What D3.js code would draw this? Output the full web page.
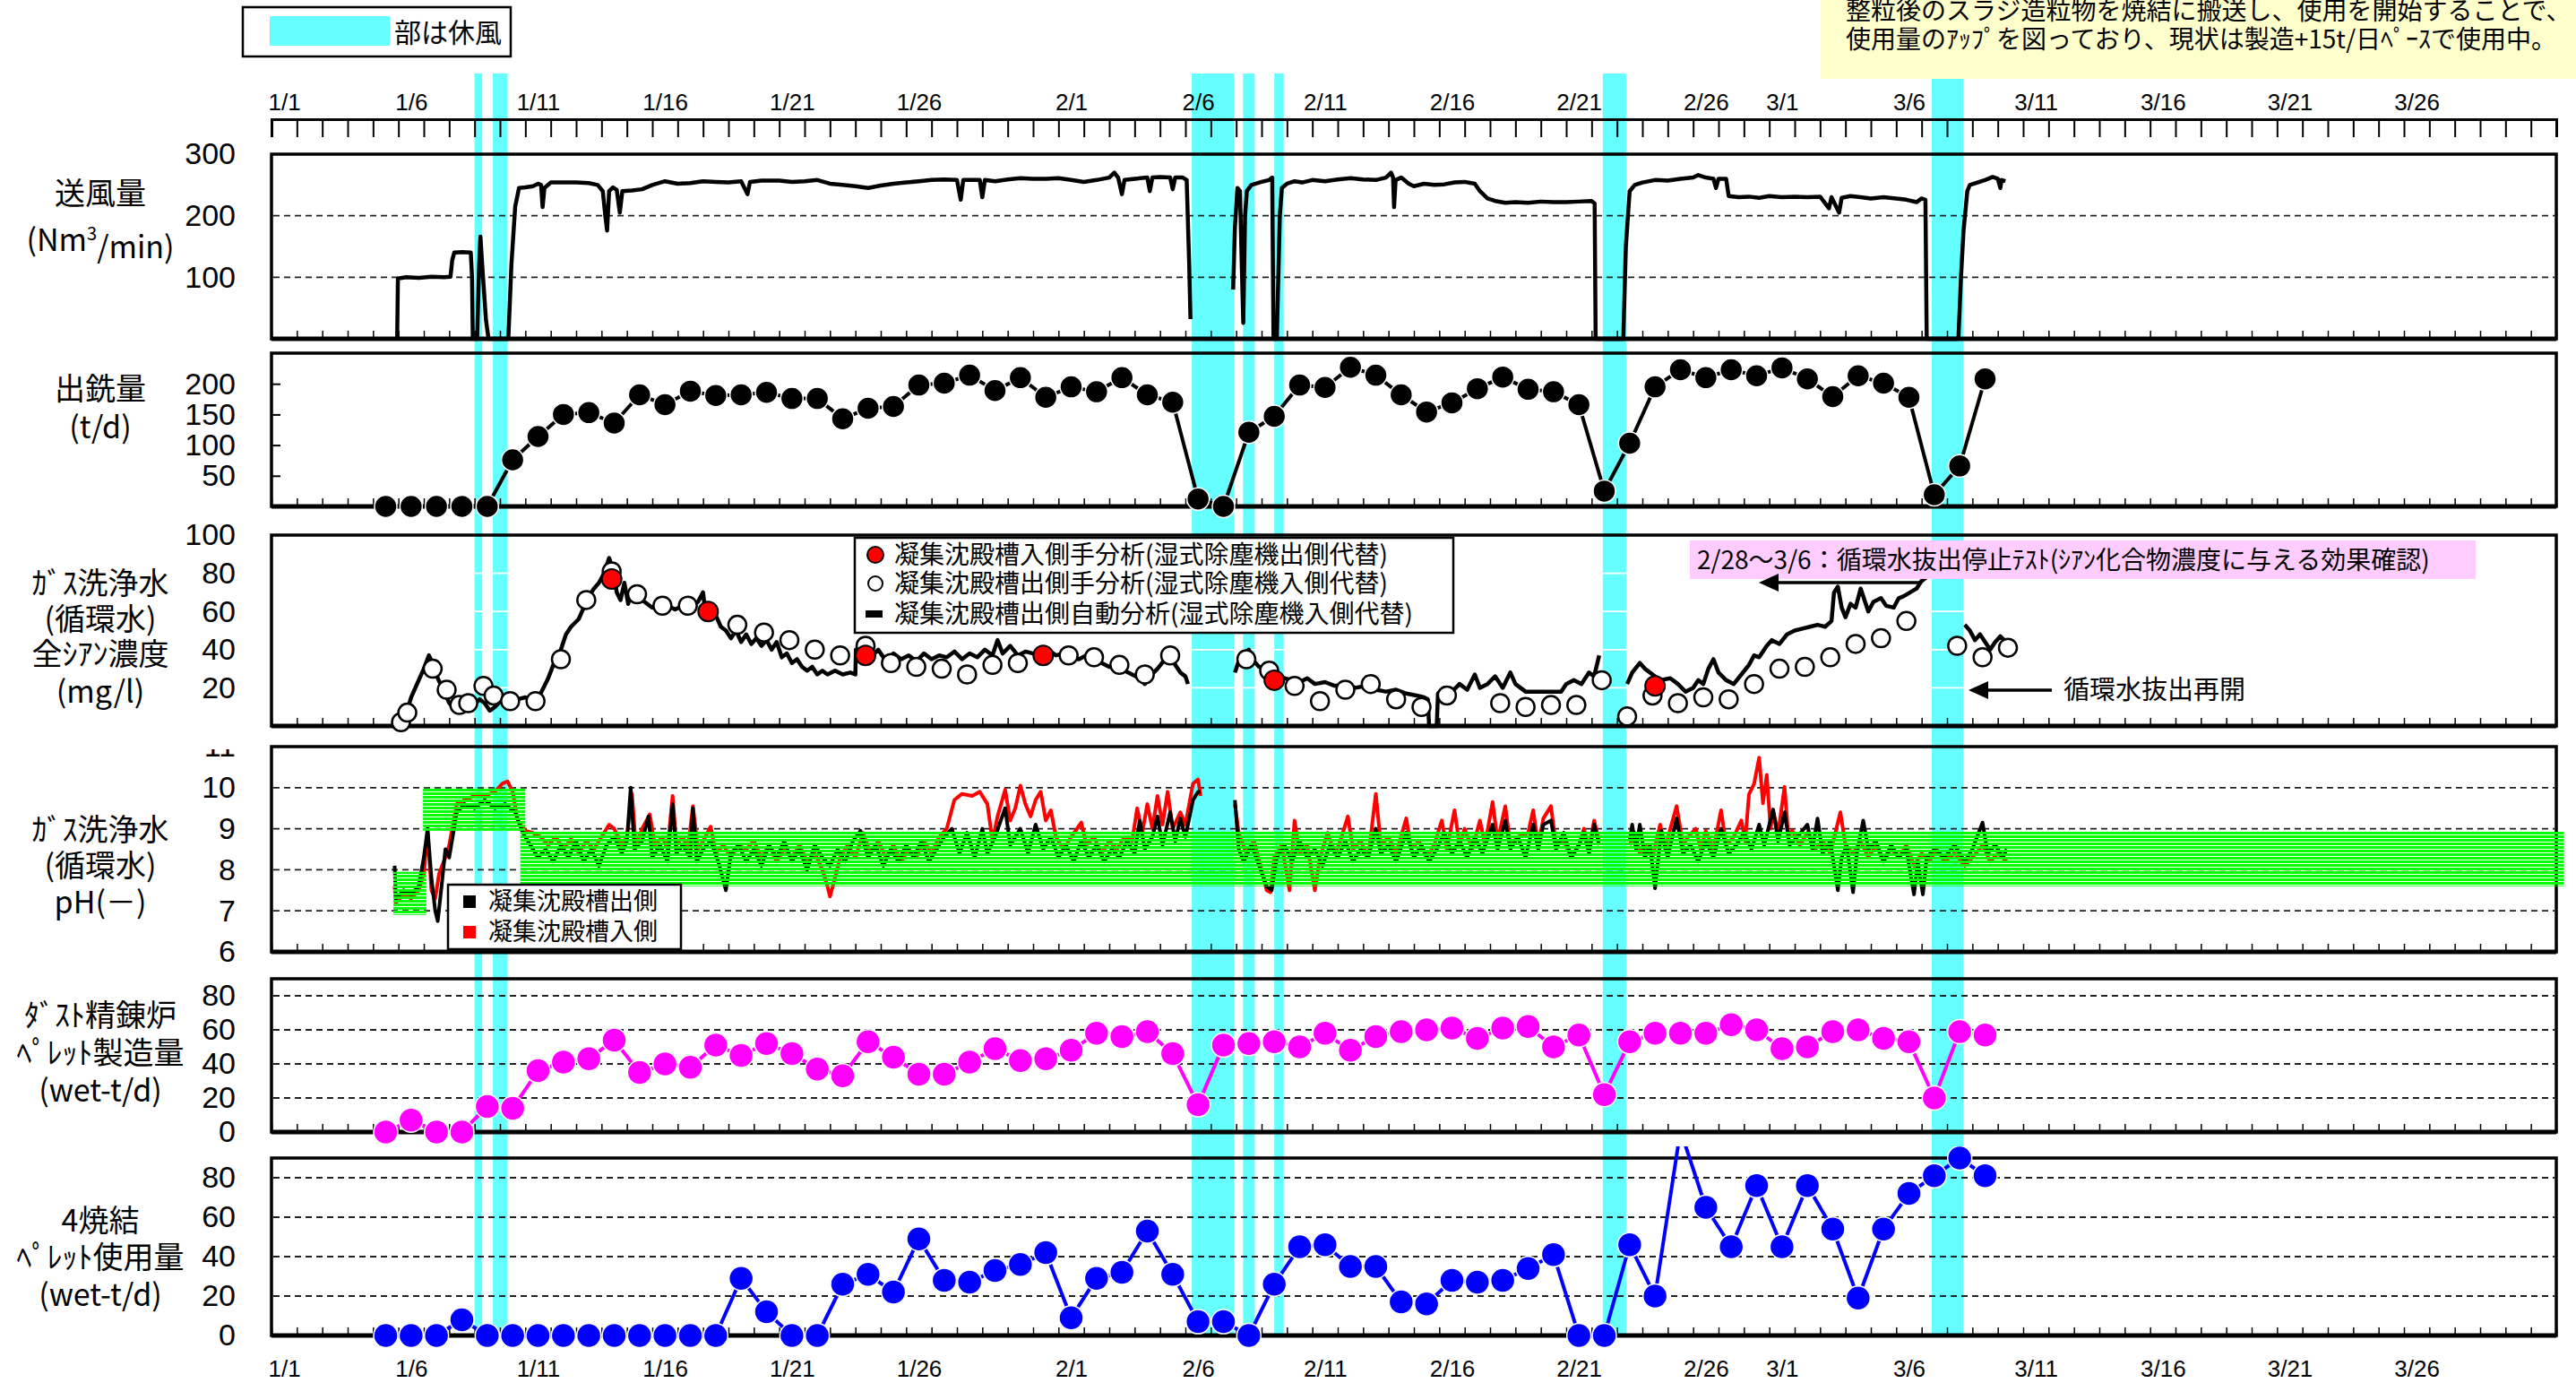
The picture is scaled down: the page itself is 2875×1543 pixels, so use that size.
<!DOCTYPE html>
<html>
<head>
<meta charset="utf-8">
<script src="https://cdn.jsdelivr.net/npm/d3@7"></script>
<style>
  body { margin: 0; background: #fff; }
  svg { display: block; }
  text { font-family: "Noto Sans CJK JP", sans-serif; fill: #000; }
  .num text, text.num { font-family: "Liberation Sans", Arial, sans-serif; }
</style>
</head>
<body>
<svg id="chart" width="2875" height="1543"></svg>
<script>
// ---- data (days counted from 1/1, fractional = time of day) ----
var dateLabels = ["1/1","1/6","1/11","1/16","1/21","1/26","2/1","2/6","2/11","2/16","2/21","2/26","3/1","3/6","3/11","3/16","3/21","3/26"];

// 休風 periods
var outageStart = [8.0, 8.72, 36.25, 38.27, 39.5, 52.44, 65.4];
var outageEnd   = [8.3, 9.3, 37.92, 38.73, 39.87, 53.36, 66.64];

// 送風量 (Nm3/min)
var blowData = [[4.95,0],[4.98,98],[5.3,100],[5.8,99],[6.3,101],[6.8,100],[7.05,101],[7.12,128],[7.2,140],[7.5,141],[7.85,140],[7.9,100],[7.93,0],[8.1,0],[8.18,120],[8.23,166],[8.3,120],[8.45,30],[8.55,0],[9.0,0],[9.33,0],[9.45,120],[9.6,215],[9.75,245],[10.0,246],[10.3,248],[10.5,252],[10.62,250],[10.68,214],[10.75,245],[11.0,254],[11.5,254],[12.0,254],[12.5,253],[12.85,250],[13.05,240],[13.15,200],[13.22,176],[13.3,240],[13.45,246],[13.6,242],[13.72,205],[13.82,240],[14.2,241],[14.6,243],[15.0,250],[15.5,256],[16.0,252],[16.5,253],[17.0,256],[17.5,255],[18.0,254],[18.5,256],[18.75,235],[18.85,255],[19.3,257],[20.0,257],[20.5,255],[21.0,256],[21.5,258],[22.0,252],[22.5,250],[23.0,248],[23.5,245],[24.0,249],[24.5,252],[25.0,254],[25.5,256],[26.0,258],[26.5,259],[27.0,258],[27.15,226],[27.25,258],[27.9,258],[28.0,230],[28.1,258],[28.5,256],[29.0,259],[29.5,261],[30.0,260],[30.5,260],[31.0,261],[31.5,258],[32.0,255],[32.5,258],[33.0,262],[33.2,270],[33.35,262],[33.5,235],[33.6,258],[34.0,260],[34.5,262],[34.6,240],[34.7,262],[35.0,263],[35.4,262],[35.5,243],[35.6,262],[35.9,262],[36.05,258],[36.15,120],[36.2,32],[36.25,null],
  [37.88,80],[37.95,180],[38.05,245],[38.15,240],[38.22,120],[38.28,26],[38.35,200],[38.42,240],[38.6,250],[39.0,255],[39.3,258],[39.42,262],[39.47,0],[39.6,0],[39.72,200],[39.8,245],[40.0,252],[40.3,256],[40.6,254],[41.0,258],[41.5,256],[42.0,259],[42.5,261],[43.0,259],[43.5,258],[43.9,262],[44.1,270],[44.18,262],[44.22,214],[44.28,258],[44.5,262],[44.8,252],[45.0,248],[45.4,252],[45.8,250],[46.2,251],[46.6,254],[47.0,255],[47.4,252],[47.6,240],[47.9,228],[48.2,224],[48.6,221],[49.0,222],[49.5,221],[50.0,223],[50.5,222],[51.0,222],[51.5,223],[52.0,224],[52.12,220],[52.16,0],[52.5,0],[53.25,0],[53.35,150],[53.5,240],[53.7,250],[54.0,254],[54.5,258],[55.0,257],[55.5,260],[56.0,262],[56.2,266],[56.5,262],[56.8,260],[56.9,245],[57.0,260],[57.3,260],[57.4,232],[57.8,230],[58.2,231],[58.6,229],[59.0,232],[59.5,230],[60.0,231],[60.5,230],[61.0,231],[61.35,212],[61.45,230],[61.75,205],[61.85,229],[62.2,232],[62.6,230],[63.0,228],[63.5,230],[64.0,228],[64.4,226],[64.8,222],[65.0,228],[65.15,226],[65.2,0],[66.0,0],[66.45,0],[66.55,100],[66.65,175],[66.8,240],[66.9,250],[67.2,254],[67.5,258],[67.8,263],[68.0,260],[68.1,245],[68.15,258],[68.3,256]];

// daily series, first value is 1/5
var dailyStart = 4;
var ironOut = [0,0,0,0,0,76,114,150,153,136,182,166,188,181,182,186,176,176,143,160,163,198,201,214,189,210,178,195,187,210,182,170,12,0,121,147,198,194,227,214,182,154,169,192,211,191,187,166,25,103,195,223,210,223,213,226,208,179,213,201,178,19,66,208];
var pelletMade = [0,7,0,0,15,14,36,41,43,54,35,40,38,51,45,52,46,37,33,53,44,34,34,41,49,42,43,48,58,56,59,46,16,51,52,53,50,58,48,56,59,60,61,55,61,62,50,57,22,53,58,58,58,63,60,49,50,59,60,55,53,20,59,57];
var pelletUsed = [0,0,0,8,0,0,0,0,0,0,0,0,0,0,29,12,0,0,26,31,22,49,28,27,33,36,42,9,29,32,53,31,7,7,0,26,45,46,35,35,17,16,28,27,28,34,41,0,0,46,20,104,65,45,76,45,76,54,19,54,72,81,90,81];

// 全シアン濃度 (mg/l)
var cnAuto = [[4.95,0],[5.1,2],[5.3,6],[5.5,15],[5.8,24],[6.0,30],[6.2,37],[6.35,33],[6.55,25],[6.8,18],[7.0,12],[7.3,8],[7.6,12],[7.9,10],[8.2,14],[8.4,12],[8.6,8],[8.8,10],[9.1,14],[9.4,12],[9.7,14],[10.0,15],[10.3,13],[10.6,17],[10.9,25],[11.1,32],[11.4,40],[11.6,48],[11.8,52],[12.1,56],[12.3,62],[12.5,68],[12.7,72],[12.9,75],[13.1,80],[13.3,88],[13.45,82],[13.6,70],[13.75,66],[13.9,75],[14.05,64],[14.2,72],[14.4,68],[14.6,66],[14.8,64],[15.0,62],[15.3,64],[15.6,63],[15.9,61],[16.2,63],[16.5,62],[16.8,65],[17.0,70],[17.1,58],[17.3,62],[17.5,58],[17.7,52],[17.9,50],[18.1,46],[18.3,50],[18.5,44],[18.7,48],[18.9,43],[19.1,46],[19.3,42],[19.5,45],[19.7,40],[19.9,44],[20.1,36],[20.3,38],[20.5,33],[20.7,35],[20.9,31],[21.1,29],[21.3,31],[21.5,27],[21.7,29],[21.9,27],[22.2,29],[22.5,27],[22.8,28],[23.0,27],[23.02,40],[23.3,38],[23.6,36],[23.9,40],[24.2,34],[24.5,38],[24.8,35],[25.1,37],[25.4,34],[25.7,38],[26.0,35],[26.3,37],[26.6,36],[26.9,39],[27.2,35],[27.5,38],[27.8,36],[28.1,40],[28.4,37],[28.6,45],[28.8,38],[29.1,42],[29.4,37],[29.7,39],[30.0,38],[30.3,36],[30.6,40],[30.9,37],[31.2,38],[31.5,36],[31.8,35],[32.1,37],[32.4,34],[32.7,33],[33.0,31],[33.3,32],[33.6,29],[33.9,27],[34.2,25],[34.4,22],[34.6,26],[34.9,30],[35.2,35],[35.4,37],[35.6,32],[35.8,28],[36.0,26],[36.1,22],[36.2,null],
  [37.95,28],[38.1,34],[38.3,38],[38.5,40],[38.7,34],[38.9,31],[39.1,30],[39.3,28],[39.6,27],[39.9,25],[40.2,24],[40.5,23],[40.8,25],[41.1,22],[41.5,23],[41.9,21],[42.3,22],[42.7,20],[43.1,21],[43.5,19],[43.9,18],[44.3,19],[44.7,17],[45.1,16],[45.4,15],[45.55,14],[45.6,0],[45.9,0],[45.95,17],[46.2,20],[46.5,18],[46.8,22],[47.1,19],[47.4,27],[47.6,20],[47.9,22],[48.2,26],[48.5,20],[48.8,28],[49.0,22],[49.2,20],[49.4,18],[50.0,18],[50.8,18],[51.0,22],[51.3,24],[51.6,22],[51.9,28],[52.1,26],[52.3,37],[52.4,null],
  [53.4,22],[53.6,28],[53.9,33],[54.1,30],[54.4,27],[54.7,24],[55.1,25],[55.4,22],[55.7,18],[56.0,20],[56.2,24],[56.4,22],[56.6,30],[56.8,35],[57.0,28],[57.3,24],[57.6,22],[57.9,27],[58.2,32],[58.4,37],[58.6,36],[58.9,42],[59.1,45],[59.4,43],[59.7,48],[60.0,50],[60.3,51],[60.6,52],[60.9,53],[61.2,52],[61.45,55],[61.55,70],[61.7,73],[61.85,62],[62.0,57],[62.2,64],[62.4,62],[62.6,72],[62.75,66],[62.9,60],[63.1,65],[63.4,67],[63.6,63],[63.9,62],[64.1,67],[64.3,68],[64.55,70],[64.8,72],[65.0,76],[65.2,78],[65.3,null],
  [66.7,53],[66.9,50],[67.1,45],[67.3,48],[67.5,44],[67.7,40],[67.9,44],[68.1,47],[68.25,45]];
var cnOut = [[5.1,2],[5.35,7],[6.35,30],[6.9,19],[7.4,11],[7.75,12],[8.35,21],[8.75,16],[9.4,13],[10.4,13],[11.4,35],[12.4,66],[13.4,81],[14.4,69],[15.4,63],[16.4,63],[18.35,53],[19.4,49],[20.4,45],[21.4,40],[22.4,37],[23.4,42],[24.4,33],[25.4,31],[26.4,30],[27.4,27],[28.4,32],[29.4,33],[30.4,37],[31.4,37],[32.4,36],[33.4,32],[34.4,27],[35.4,37],[38.4,35],[39.3,29],[40.3,21],[41.3,13],[42.3,19],[43.3,22],[44.3,14],[45.3,10],[46.3,16],[48.4,12],[49.4,10],[50.4,11],[51.4,11],[52.4,24],[53.4,5],[54.4,16],[55.4,12],[56.4,15],[57.4,14],[58.4,22],[59.4,30],[60.4,31],[61.4,36],[62.4,43],[63.4,46],[64.4,55],[66.4,42],[67.4,36],[68.4,41]];
var cnIn = [[13.4,77],[17.2,60],[23.4,37],[30.4,37],[39.5,24],[54.5,21]];

// pH
var phOut = [[4.85,8.1],[4.9,7.3],[5.2,7.5],[5.5,7.4],[5.8,7.6],[6.0,8.3],[6.15,9.0],[6.3,7.8],[6.45,7.0],[6.55,6.75],[6.7,7.6],[6.85,8.5],[7.0,8.3],[7.3,9.4],[7.6,9.6],[8.0,9.5],[8.4,9.7],[8.8,9.5],[9.2,9.6],[9.6,9.4],[9.9,8.9],[10.2,8.6],[10.5,8.3],[10.8,8.5],[11.1,8.2],[11.4,8.6],[11.7,8.3],[12.0,8.7],[12.3,8.2],[12.6,8.5],[12.9,8.1],[13.2,8.6],[13.5,8.8],[13.8,8.4],[14.0,8.7],[14.15,10.0],[14.3,8.5],[14.6,8.7],[14.85,9.3],[15.0,8.3],[15.3,8.6],[15.6,8.2],[15.8,9.6],[15.95,8.4],[16.2,8.6],[16.5,8.3],[16.6,9.5],[16.75,8.2],[17.0,8.5],[17.3,8.7],[17.6,8.2],[17.9,7.5],[18.1,8.4],[18.4,8.6],[18.7,8.2],[19.0,8.5],[19.3,8.1],[19.6,8.6],[19.9,8.3],[20.2,8.7],[20.5,8.2],[20.8,8.5],[21.1,8.0],[21.4,8.6],[21.7,8.3],[22.0,8.1],[22.3,8.5],[22.6,8.2],[22.9,8.7],[23.2,8.95],[23.5,8.3],[23.8,8.6],[24.1,8.1],[24.4,8.5],[24.7,8.2],[25.0,8.6],[25.3,8.3],[25.6,8.7],[25.9,8.2],[26.2,8.5],[26.5,8.8],[26.8,9.0],[27.1,8.4],[27.4,8.9],[27.7,8.3],[28.0,9.0],[28.2,8.4],[28.5,8.8],[28.9,9.5],[29.1,8.6],[29.5,9.0],[29.8,8.4],[30.1,9.1],[30.4,8.5],[30.7,8.8],[31.0,8.3],[31.3,8.6],[31.6,8.2],[31.9,8.7],[32.2,8.3],[32.5,8.6],[32.8,8.2],[33.1,8.5],[33.4,8.3],[33.7,8.7],[34.0,8.4],[34.2,9.2],[34.4,8.5],[34.7,8.8],[34.9,9.3],[35.1,8.6],[35.4,9.4],[35.6,8.7],[35.8,9.25],[36.0,8.8],[36.3,9.7],[36.5,9.9],[36.6,9.9],[36.7,null],
  [37.95,9.7],[38.1,8.5],[38.3,8.2],[38.6,8.6],[38.9,8.1],[39.2,7.6],[39.4,7.5],[39.6,8.3],[39.9,8.6],[40.2,8.2],[40.5,8.7],[40.8,8.3],[41.1,8.5],[41.4,8.1],[41.7,8.6],[42.0,8.3],[42.3,8.7],[42.6,8.2],[42.9,8.5],[43.2,8.3],[43.5,9.0],[43.7,8.4],[44.0,8.6],[44.3,8.2],[44.7,8.9],[45.0,8.3],[45.3,8.6],[45.6,8.2],[45.9,8.5],[46.2,8.9],[46.5,8.4],[46.8,8.7],[47.1,8.3],[47.4,8.8],[47.7,8.4],[48.1,9.1],[48.3,8.5],[48.6,9.2],[48.8,8.5],[49.1,8.8],[49.4,8.3],[49.7,9.1],[49.9,8.5],[50.1,9.1],[50.4,9.2],[50.6,8.5],[50.9,8.9],[51.2,8.3],[51.5,8.6],[51.7,8.9],[51.9,8.4],[52.1,9.1],[52.3,8.6],[52.4,null],
  [53.5,8.7],[53.6,9.1],[53.75,8.5],[53.9,9.1],[54.1,8.3],[54.3,8.6],[54.5,7.55],[54.65,8.4],[54.75,8.95],[55.0,8.3],[55.35,9.25],[55.6,8.4],[55.9,8.6],[56.2,8.2],[56.5,8.7],[56.8,8.3],[57.1,9.0],[57.4,8.4],[57.7,8.6],[58.0,8.9],[58.3,8.5],[58.6,9.1],[58.8,8.6],[59.15,9.47],[59.35,8.7],[59.6,9.4],[59.8,8.6],[60.1,8.8],[60.5,9.1],[60.7,8.5],[60.9,9.25],[61.1,8.4],[61.4,8.7],[61.7,7.5],[61.85,8.3],[62.05,8.6],[62.3,7.45],[62.45,8.4],[62.7,9.2],[62.9,8.5],[63.2,8.7],[63.5,8.2],[63.8,8.6],[64.1,8.3],[64.4,8.5],[64.7,7.4],[64.85,8.2],[65.05,7.4],[65.2,8.3],[65.5,8.5],[65.9,8.3],[66.3,8.6],[66.7,8.2],[67.0,8.5],[67.4,9.15],[67.6,8.4],[67.9,8.6],[68.2,8.3],[68.35,8.5]];
var phIn = [[4.85,7.6],[4.9,7.2],[5.2,7.4],[5.5,7.3],[5.8,7.5],[6.0,7.9],[6.15,8.9],[6.3,7.5],[6.45,7.3],[6.6,7.9],[6.85,8.3],[7.0,8.6],[7.3,9.6],[7.6,9.7],[8.0,9.8],[8.4,9.8],[8.8,9.9],[9.1,10.1],[9.3,10.15],[9.5,9.9],[9.7,9.2],[10.0,8.95],[10.3,8.9],[10.6,8.8],[10.9,8.6],[11.2,8.8],[11.5,8.5],[11.8,8.75],[12.1,8.4],[12.4,8.7],[12.7,8.5],[13.0,8.8],[13.3,9.1],[13.5,9.0],[13.8,8.6],[14.0,8.8],[14.2,9.85],[14.35,8.6],[14.6,9.0],[14.9,9.35],[15.1,8.6],[15.4,8.8],[15.6,8.5],[15.8,9.8],[15.95,8.6],[16.2,8.8],[16.4,8.5],[16.6,9.55],[16.8,8.5],[17.0,8.7],[17.3,9.05],[17.5,8.4],[17.8,8.6],[18.1,8.3],[18.4,8.6],[18.7,8.5],[19.0,8.7],[19.3,8.3],[19.6,8.6],[19.9,8.2],[20.2,8.5],[20.5,8.3],[20.8,8.6],[21.1,8.2],[21.4,8.4],[21.7,8.0],[21.9,7.6],[22.0,7.35],[22.15,7.7],[22.4,8.3],[22.7,8.6],[23.0,8.3],[23.3,8.9],[23.6,8.4],[23.9,8.7],[24.2,8.3],[24.5,8.6],[24.8,8.2],[25.1,8.5],[25.4,8.3],[25.7,8.7],[26.0,8.4],[26.3,8.8],[26.6,9.0],[26.9,9.7],[27.2,9.85],[27.6,9.8],[27.9,9.9],[28.2,9.6],[28.4,8.7],[28.6,9.3],[28.9,9.95],[29.1,9.2],[29.3,9.5],[29.5,10.05],[29.7,9.6],[29.9,9.3],[30.1,9.7],[30.3,9.9],[30.5,9.2],[30.7,9.45],[30.9,8.8],[31.2,8.5],[31.5,8.8],[31.9,9.15],[32.1,8.6],[32.4,8.8],[32.7,8.4],[33.0,8.7],[33.3,8.5],[33.6,8.8],[33.9,8.7],[34.1,9.5],[34.3,8.9],[34.5,9.6],[34.7,9.0],[34.9,9.8],[35.1,9.1],[35.3,9.9],[35.5,9.0],[35.8,9.4],[36.0,9.1],[36.3,10.1],[36.5,10.2],[36.6,9.8],[36.7,null],
  [37.95,9.6],[38.1,8.9],[38.4,8.4],[38.7,8.7],[39.0,8.0],[39.2,7.5],[39.35,7.45],[39.5,8.3],[39.8,8.6],[40.1,7.5],[40.3,9.2],[40.5,8.4],[40.8,8.6],[41.1,7.5],[41.3,8.3],[41.6,8.9],[41.9,8.4],[42.1,8.7],[42.4,9.3],[42.6,8.5],[42.9,8.7],[43.2,8.3],[43.5,9.85],[43.7,8.6],[44.0,8.8],[44.3,8.4],[44.7,9.25],[44.9,8.5],[45.2,8.7],[45.5,8.3],[45.8,8.6],[46.1,9.2],[46.3,8.5],[46.6,9.45],[46.8,8.6],[47.0,9.0],[47.3,8.5],[47.6,9.2],[47.8,8.6],[48.1,9.65],[48.3,8.7],[48.6,9.55],[48.8,8.6],[49.1,8.8],[49.5,8.9],[49.7,9.45],[49.9,8.6],[50.1,9.25],[50.4,9.55],[50.6,8.6],[50.9,8.7],[51.2,8.3],[51.5,8.6],[51.7,9.0],[51.9,8.5],[52.1,9.2],[52.3,8.7],[52.4,null],
  [53.5,8.6],[53.7,8.9],[53.9,8.4],[54.1,8.6],[54.4,8.3],[54.7,9.1],[54.9,8.5],[55.1,9.0],[55.35,9.55],[55.6,8.6],[55.8,8.8],[56.1,9.0],[56.3,8.5],[56.5,8.95],[56.8,8.5],[57.1,9.45],[57.3,8.6],[57.6,8.8],[57.9,9.2],[58.05,8.7],[58.2,9.84],[58.4,10.09],[58.6,10.73],[58.75,9.62],[58.9,10.31],[59.05,9.0],[59.15,9.44],[59.35,8.9],[59.6,10.02],[59.75,8.8],[59.9,8.96],[60.2,8.6],[60.5,8.9],[60.8,8.5],[61.1,8.7],[61.4,8.4],[61.6,8.9],[61.8,9.4],[62.0,8.6],[62.3,8.4],[62.6,8.7],[62.9,8.3],[63.2,8.6],[63.5,8.2],[63.8,8.5],[64.1,8.3],[64.4,8.6],[64.7,8.1],[65.0,8.4],[65.3,8.2],[65.6,8.5],[65.9,8.2],[66.3,8.4],[66.7,8.1],[67.0,8.3],[67.4,8.6],[67.7,8.2],[68.0,8.4],[68.35,8.2]];

// pH control ranges (green hatched)
var rangeStart = [4.8, 5.97, 9.8];
var rangeEnd   = [6.1, 10.0, 90.3];
var rangeLow   = [6.9, 8.95, 7.6];
var rangeHigh  = [7.95, 10.0, 8.93];

// ---- scales ----
var DAY = 864e5, T0 = Date.UTC(2009, 0, 1);
var toDate = function (d) { return new Date(T0 + d * DAY); };
var x = d3.scaleUtc().domain([toDate(0), toDate(90)]).range([303, 2853]);
var X = function (d) { return x(toDate(d)); };
var XL = X(0), XR = X(90);

var svg = d3.select("#chart");

var defs = svg.append("defs");
defs.append("pattern").attr("id", "stripes").attr("patternUnits", "userSpaceOnUse")
  .attr("width", 20).attr("height", 4)
  .append("rect").attr("width", 20).attr("height", 3).attr("fill", "#00ff00");
defs.append("clipPath").attr("id", "clipUsed").append("rect")
  .attr("x", 250).attr("y", 1279).attr("width", 2650).attr("height", 260);
defs.append("clipPath").attr("id", "clipPhLab").append("rect")
  .attr("x", -300).attr("y", 836).attr("width", 300).attr("height", 260);

// outage bands
svg.append("g").selectAll("rect")
  .data(d3.zip(outageStart, outageEnd))
  .join("rect")
  .attr("x", function (d) { return X(d[0]); })
  .attr("width", function (d) { return X(d[1]) - X(d[0]); })
  .attr("y", 82).attr("height", 1410)
  .attr("fill", "#66ffff");

// ---- top date axis ----
var labelDates = dateLabels.map(function (s) {
  var p = s.split("/");
  return new Date(Date.UTC(2009, +p[0] - 1, +p[1], 12));
});
svg.append("g").attr("transform", "translate(0,133)")
  .call(d3.axisBottom(x).ticks(d3.utcDay.every(1)).tickSize(20).tickSizeOuter(20).tickFormat(""))
  .call(function (g) { g.selectAll("line,path").attr("stroke", "#000"); })
  .call(function (g) { g.select(".domain").attr("stroke-width", 3); g.selectAll("line").attr("stroke-width", 2); });

function dateLabelAxis(y, top) {
  var ax = (top ? d3.axisTop(x) : d3.axisBottom(x))
    .tickValues(labelDates).tickSize(0).tickPadding(top ? 10 : 13)
    .tickFormat(function (d, i) { return dateLabels[i]; });
  svg.append("g").attr("class", "num").attr("transform", "translate(0," + y + ")")
    .call(ax)
    .call(function (g) { g.select(".domain").remove(); })
    .selectAll("text").style("font-size", "26px");
}
dateLabelAxis(133, true);
dateLabelAxis(1505, false);

// ---- panel helper ----
function panel(top, bottom, domain, grid, gridColor, labels, tickIn) {
  var y = d3.scaleLinear().domain(domain).range([bottom, top]);
  var g = svg.append("g");
  g.selectAll("line.grid").data(grid).join("line").attr("class", "grid")
    .attr("x1", XL + 2).attr("x2", XR - 2)
    .attr("y1", y).attr("y2", y)
    .attr("stroke", gridColor).attr("stroke-width", 1.8)
    .attr("stroke-dasharray", gridColor === "#fff" ? null : "7,5");
  g.append("rect").attr("x", XL).attr("y", top)
    .attr("width", XR - XL).attr("height", bottom - top)
    .attr("fill", "none").attr("stroke", "#000").attr("stroke-width", 3.5);
  g.append("line").attr("x1", XL).attr("x2", XR).attr("y1", bottom).attr("y2", bottom)
    .attr("stroke", "#000").attr("stroke-width", 5);
  g.append("g").attr("transform", "translate(0," + bottom + ")")
    .call(d3.axisTop(x).ticks(d3.utcDay.every(1)).tickSize(9).tickFormat(""))
    .call(function (a) { a.select(".domain").remove(); a.selectAll("line").attr("stroke-width", 1.5); });
  var lab = g.append("g").attr("class", "num").attr("transform", "translate(" + XL + ",0)")
    .call(d3.axisLeft(y).tickValues(labels).tickFormat(d3.format("d"))
      .tickSizeInner(tickIn).tickSizeOuter(0).tickPadding(40))
    .call(function (a) { a.select(".domain").remove(); a.selectAll("line").attr("stroke-width", 2); });
  lab.selectAll("text").style("font-size", "34px");
  return { y: y, g: g, lab: lab };
}

function line(g, data, y, color, w) {
  return g.append("path").datum(data)
    .attr("d", d3.line().defined(function (d) { return d[1] != null; })
      .x(function (d) { return X(d[0]); }).y(function (d) { return y(d[1]); }))
    .attr("fill", "none").attr("stroke", color).attr("stroke-width", w)
    .attr("stroke-linejoin", "round");
}

function dailySeries(g, values, y, color, r) {
  var pts = values.map(function (v, i) { return [dailyStart + i + 0.5, v]; });
  line(g, pts, y, color, 4);
  g.selectAll("circle.m").data(pts).join("circle").attr("class", "m")
    .attr("cx", function (d) { return X(d[0]); }).attr("cy", function (d) { return y(d[1]); })
    .attr("r", r).attr("fill", color).attr("stroke", "#fff").attr("stroke-width", 1.5);
}

// titles
function title(lines, ys) {
  lines.forEach(function (t, i) {
    svg.append("text").attr("x", 112).attr("y", ys[i]).attr("dy", "0.35em")
      .attr("text-anchor", "middle").style("font-size", "34px").text(t);
  });
}

// 1 送風量
var p1 = panel(172, 378, [0, 300], [100, 200], "#222", [100, 200, 300], 0);
line(p1.g, blowData, p1.y, "#000", 4.5);
title(["送風量"], [216]);
var t1 = svg.append("text").attr("x", 112).attr("y", 268).attr("dy", "0.35em")
  .attr("text-anchor", "middle").style("font-size", "34px");
t1.append("tspan").text("(Nm");
t1.append("tspan").attr("dy", "-0.6em").style("font-size", "20px").text("3");
t1.append("tspan").attr("dy", "0.6em").text("/min)");

// 2 出銑量
var p2 = panel(394, 565, [0, 250], [], "#222", [50, 100, 150, 200], -10);
dailySeries(p2.g, ironOut, p2.y, "#000", 12.5);
title(["出銑量", "(t/d)"], [434, 477]);

// 3 全シアン濃度
var p3 = panel(597, 810, [0, 100], [20, 40, 60, 80], "#fff", [20, 40, 60, 80, 100], 0);
line(p3.g, cnAuto, p3.y, "#000", 4.5);
p3.g.selectAll("circle.o").data(cnOut).join("circle").attr("class", "o")
  .attr("cx", function (d) { return X(d[0]); }).attr("cy", function (d) { return p3.y(d[1]); })
  .attr("r", 10).attr("fill", "#fff").attr("stroke", "#000").attr("stroke-width", 2.5);
p3.g.selectAll("circle.i").data(cnIn).join("circle").attr("class", "i")
  .attr("cx", function (d) { return X(d[0]); }).attr("cy", function (d) { return p3.y(d[1]); })
  .attr("r", 11).attr("fill", "#ff0000").attr("stroke", "#000").attr("stroke-width", 2);
title(["ｶﾞｽ洗浄水", "(循環水)", "全ｼｱﾝ濃度", "(mg/l)"], [651, 691, 730, 772]);

// 4 pH
var p4 = panel(833, 1062, [6, 11], [7, 8, 9, 10], "#222", [6, 7, 8, 9, 10, 11], 0);
p4.lab.attr("clip-path", "url(#clipPhLab)");
line(p4.g, phIn, p4.y, "#ff0000", 4);
line(p4.g, phOut, p4.y, "#000", 4);
p4.g.selectAll("rect.rng").data(d3.range(rangeStart.length)).join("rect").attr("class", "rng")
  .attr("x", function (i) { return X(rangeStart[i]); })
  .attr("width", function (i) { return X(rangeEnd[i]) - X(rangeStart[i]); })
  .attr("y", function (i) { return p4.y(rangeHigh[i]); })
  .attr("height", function (i) { return p4.y(rangeLow[i]) - p4.y(rangeHigh[i]); })
  .attr("fill", "url(#stripes)");
title(["ｶﾞｽ洗浄水", "(循環水)", "pH(－)"], [926, 966, 1007]);

// 5 ペレット製造量
var p5 = panel(1092, 1263, [0, 90], [20, 40, 60, 80], "#222", [0, 20, 40, 60, 80], 0);
dailySeries(p5.g, pelletMade, p5.y, "#ff00ff", 13.5);
title(["ﾀﾞｽﾄ精錬炉", "ﾍﾟﾚｯﾄ製造量", "(wet-t/d)"], [1133, 1175, 1217]);

// 6 ペレット使用量
var p6 = panel(1292, 1490, [0, 90], [20, 40, 60, 80], "#222", [0, 20, 40, 60, 80], 0);
var g6 = p6.g.append("g").attr("clip-path", "url(#clipUsed)");
dailySeries(g6, pelletUsed, p6.y, "#0000ff", 13.5);
title(["4焼結", "ﾍﾟﾚｯﾄ使用量", "(wet-t/d)"], [1362, 1403, 1445]);

// ---- legends and notes ----
// cyanide legend
var lg = svg.append("g");
lg.append("rect").attr("x", 954).attr("y", 600).attr("width", 668).attr("height", 106)
  .attr("fill", "#fff").attr("stroke", "#000").attr("stroke-width", 2.5);
lg.append("circle").attr("cx", 977).attr("cy", 619).attr("r", 9).attr("fill", "#ff0000").attr("stroke", "#000").attr("stroke-width", 2);
lg.append("circle").attr("cx", 977).attr("cy", 651).attr("r", 8).attr("fill", "#fff").attr("stroke", "#000").attr("stroke-width", 2);
lg.append("rect").attr("x", 966).attr("y", 681).attr("width", 19).attr("height", 8).attr("fill", "#000");
["凝集沈殿槽入側手分析(湿式除塵機出側代替)", "凝集沈殿槽出側手分析(湿式除塵機入側代替)", "凝集沈殿槽出側自動分析(湿式除塵機入側代替)"]
  .forEach(function (t, i) {
    lg.append("text").attr("x", 998).attr("y", [619, 651, 685][i]).attr("dy", "0.35em")
      .style("font-size", "28px").text(t);
  });

// pH legend
var lp = svg.append("g");
lp.append("rect").attr("x", 500).attr("y", 987).attr("width", 260).attr("height", 72)
  .attr("fill", "#fff").attr("stroke", "#000").attr("stroke-width", 2.5);
lp.append("rect").attr("x", 517).attr("y", 999).attr("width", 14).attr("height", 14).attr("fill", "#000");
lp.append("rect").attr("x", 517).attr("y", 1033).attr("width", 14).attr("height", 14).attr("fill", "#ff0000");
lp.append("text").attr("x", 545).attr("y", 1006).attr("dy", "0.35em").style("font-size", "27px").text("凝集沈殿槽出側");
lp.append("text").attr("x", 545).attr("y", 1040).attr("dy", "0.35em").style("font-size", "27px").text("凝集沈殿槽入側");

// test period note
svg.append("rect").attr("x", 1886).attr("y", 603).attr("width", 877).attr("height", 43).attr("fill", "#ffccff");
svg.append("text").attr("x", 1894).attr("y", 625).attr("dy", "0.35em").style("font-size", "28px")
  .text("2/28～3/6：循環水抜出停止ﾃｽﾄ(ｼｱﾝ化合物濃度に与える効果確認)");
function arrow(x1, x2, y) {
  svg.append("line").attr("x1", x1 + 15).attr("x2", x2).attr("y1", y).attr("y2", y)
    .attr("stroke", "#000").attr("stroke-width", 3.5);
  svg.append("path").attr("d", "M" + x1 + "," + y + "L" + (x1 + 22) + "," + (y - 10) + "L" + (x1 + 22) + "," + (y + 10) + "Z")
    .attr("fill", "#000");
}
arrow(1963, 2143, 650);
arrow(2197, 2290, 770);
svg.append("text").attr("x", 2303).attr("y", 770).attr("dy", "0.35em").style("font-size", "29px").text("循環水抜出再開");

// outage legend
svg.append("rect").attr("x", 271).attr("y", 8).attr("width", 299).attr("height", 55)
  .attr("fill", "#fff").attr("stroke", "#000").attr("stroke-width", 2.5);
svg.append("rect").attr("x", 301).attr("y", 18).attr("width", 134).attr("height", 33).attr("fill", "#66ffff");
svg.append("text").attr("x", 440).attr("y", 36).attr("dy", "0.35em").style("font-size", "30px").text("部は休風");

// yellow note
svg.append("rect").attr("x", 2032).attr("y", -5).attr("width", 850).attr("height", 93).attr("fill", "#ffffcc");
svg.append("text").attr("x", 2060).attr("y", 12).attr("dy", "0.35em").style("font-size", "28px")
  .text("整粒後のスラジ造粒物を焼結に搬送し、使用を開始することで、");
svg.append("text").attr("x", 2060).attr("y", 44).attr("dy", "0.35em").style("font-size", "28px")
  .text("使用量のｱｯﾌﾟを図っており、現状は製造+15t/日ﾍﾟｰｽで使用中。");
</script>
</body>
</html>
